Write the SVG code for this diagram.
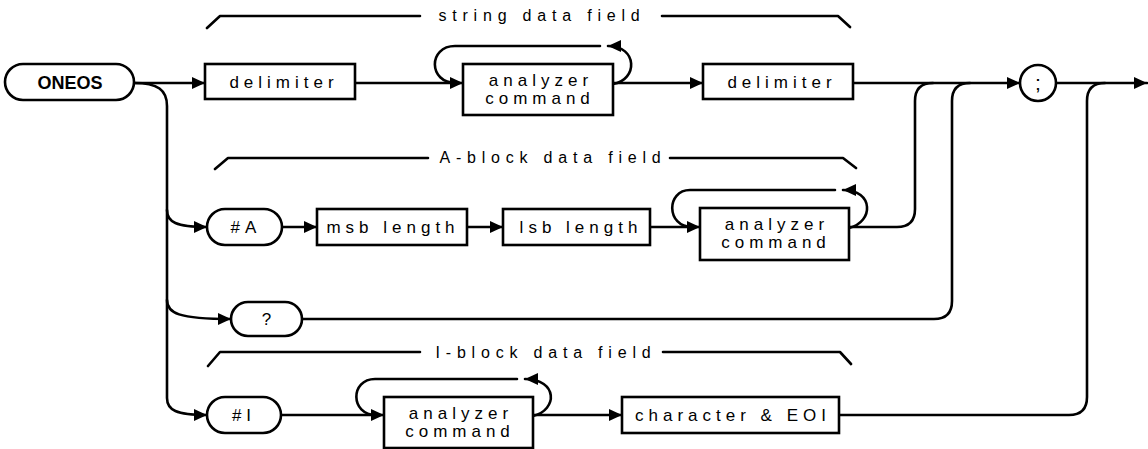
<svg xmlns="http://www.w3.org/2000/svg" width="1148" height="449" viewBox="0 0 1148 449">
<style>
.s{fill:none;stroke:#000;stroke-width:2.6;stroke-linejoin:round;stroke-linecap:round}
.b{fill:#fff;stroke:#000;stroke-width:2.6}
.t{font-family:"Liberation Sans",Arial,sans-serif;font-size:17px;fill:#000;text-anchor:middle;letter-spacing:5px}
.h{font-family:"Liberation Sans",Arial,sans-serif;font-size:16px;fill:#000;text-anchor:middle;letter-spacing:5.8px}
.k{font-family:"Liberation Sans",Arial,sans-serif;font-size:18px;font-weight:bold;fill:#000;text-anchor:middle}
</style>
<defs>
<marker id="a" markerUnits="userSpaceOnUse" markerWidth="14" markerHeight="12" refX="13" refY="6" orient="auto">
<path d="M0,0 L13,6 L0,12 Z" fill="#000"/>
</marker>
</defs>
<rect width="1148" height="449" fill="#fff"/>
<g id="connectors">
<path class="s" d="M134,83 H205" marker-end="url(#a)"/>
<path class="s" d="M355,83 H463" marker-end="url(#a)"/>
<path class="s" d="M613,84 C638,80 638,46 608,46" marker-end="url(#a)"/>
<path class="s" d="M600,46 H455 C428,46 428,83 456,83"/>
<path class="s" d="M613,83 H703" marker-end="url(#a)"/>
<path class="s" d="M853,83 H1020" marker-end="url(#a)"/>
<path class="s" d="M1056,83 H1147" marker-end="url(#a)"/>
<path class="s" d="M134,83 C158,83 167,90 167,106 V398 C167,410 176,415 207,415" marker-end="url(#a)"/>
<path class="s" d="M167,210 C167,222 176,227 207,227" marker-end="url(#a)"/>
<path class="s" d="M167,300 C167,313 178,319 231,319" marker-end="url(#a)"/>
<path class="s" d="M282,227 H317" marker-end="url(#a)"/>
<path class="s" d="M467,227 H503" marker-end="url(#a)"/>
<path class="s" d="M650,227 H700" marker-end="url(#a)"/>
<path class="s" d="M849,228 C874,222 874,190 843,190" marker-end="url(#a)"/>
<path class="s" d="M835,190 H690 C666,190 666,227 692,227"/>
<path class="s" d="M849,227 H897 Q915,227 915,209 V101 Q915,83 933,83"/>
<path class="s" d="M302,319 H934 Q952,319 952,301 V101 Q952,83 970,83"/>
<path class="s" d="M281,415 H384" marker-end="url(#a)"/>
<path class="s" d="M533,416 C558,410 558,379 525,379" marker-end="url(#a)"/>
<path class="s" d="M517,379 H375 C350,379 350,415 376,415"/>
<path class="s" d="M533,415 H622" marker-end="url(#a)"/>
<path class="s" d="M839,415 H1069 Q1087,415 1087,397 V101 Q1087,83 1105,83"/>
</g>
<g id="title-string">
<path class="s" d="M207,28 L220,16 H420 M662,16 H838 L850,27"/>
<text class="h" x="542" y="21">string data field</text>
</g>
<g id="title-ablock">
<path class="s" d="M215,169 L228,158 H428 M670,158 H843 L856,168"/>
<text class="h" x="553" y="163">A-block data field</text>
</g>
<g id="title-iblock">
<path class="s" d="M208,366 L220,352 H420 M663,352 H840 L851,364"/>
<text class="h" x="546" y="358">I-block data field</text>
</g>
<g id="oneos">
<rect class="b" x="5" y="64" width="129" height="36" rx="18"/>
<text class="k" x="70" y="89">ONEOS</text>
</g>
<g id="delimiter1">
<rect class="b" x="205" y="64" width="150" height="35"/>
<text class="t" x="284" y="88">delimiter</text>
</g>
<g id="analyzer1">
<rect class="b" x="463" y="64" width="150" height="51"/>
<text class="t" x="541" y="86">analyzer</text>
<text class="t" x="540" y="104">command</text>
</g>
<g id="delimiter2">
<rect class="b" x="703" y="64" width="150" height="35"/>
<text class="t" x="782" y="88">delimiter</text>
</g>
<g id="semicolon">
<circle class="b" cx="1038" cy="83" r="18"/>
<text class="k" x="1038" y="90" style="font-weight:normal;font-size:21px">;</text>
</g>
<g id="hashA">
<rect class="b" x="207" y="209" width="75" height="36" rx="18"/>
<text class="t" x="246" y="233">#A</text>
</g>
<g id="msb">
<rect class="b" x="317" y="209" width="150" height="36"/>
<text class="t" x="393" y="233">msb length</text>
</g>
<g id="lsb">
<rect class="b" x="503" y="209" width="147" height="36"/>
<text class="t" x="581" y="233">lsb length</text>
</g>
<g id="analyzer2">
<rect class="b" x="700" y="208" width="149" height="52"/>
<text class="t" x="777" y="230">analyzer</text>
<text class="t" x="776" y="248">command</text>
</g>
<g id="question">
<rect class="b" x="231" y="302" width="71" height="34" rx="17"/>
<text class="t" x="269" y="325">?</text>
</g>
<g id="hashI">
<rect class="b" x="207" y="397" width="74" height="36" rx="18"/>
<text class="t" x="244" y="421">#I</text>
</g>
<g id="analyzer3">
<rect class="b" x="384" y="397" width="149" height="51"/>
<text class="t" x="461" y="419">analyzer</text>
<text class="t" x="460" y="437">command</text>
</g>
<g id="charEOI">
<rect class="b" x="622" y="397" width="217" height="36"/>
<text class="t" x="733" y="421">character &amp; EOI</text>
</g>
</svg>
